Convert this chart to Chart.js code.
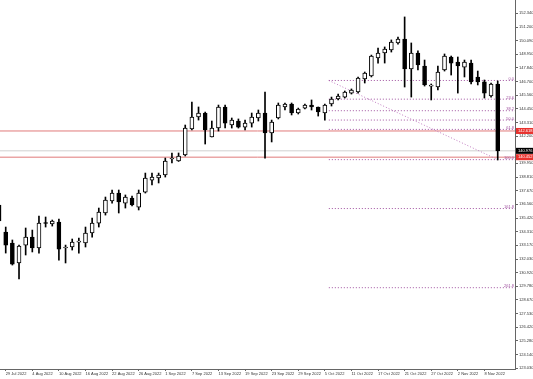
<!DOCTYPE html>
<html>
<head>
<meta charset="utf-8">
<script src="https://cdn.jsdelivr.net/npm/chart.js@4.4.0/dist/chart.umd.min.js"></script>
<style>
html, body { margin: 0; padding: 0; background: #fff; }
</style>
</head>
<body>
<canvas id="myChart" width="533" height="379"></canvas>
<script>
// daily candles, first one is 28 Jul 2022 (index -1)
var firstIndex = -1;
var opens  = [136.50,134.27,133.36,131.71,133.19,133.85,132.95,135.01,134.93,135.09,132.95,133.03,133.44,133.36,134.19,135.01,135.84,136.83,137.49,136.66,137.08,136.33,137.57,138.56,138.73,138.98,140.30,140.14,140.63,142.78,143.77,144.10,142.12,142.86,144.60,143.11,143.44,142.94,143.27,143.69,144.10,142.45,143.69,144.60,144.85,144.10,144.51,144.76,144.60,144.10,144.85,145.26,145.42,145.75,145.84,146.91,147.16,148.65,149.06,149.31,149.89,150.22,147.74,149.06,147.99,146.33,146.25,147.66,148.73,148.32,147.90,148.23,147.08,146.67,145.51,146.50];
var highs  = [136.66,134.68,133.61,133.19,134.60,134.43,135.59,135.51,135.26,135.34,133.19,133.69,133.77,134.68,135.43,136.25,137.16,137.74,137.74,137.33,137.24,137.74,139.14,139.14,139.14,140.38,140.80,140.80,143.11,145.01,144.60,144.18,143.44,144.76,144.76,143.69,143.61,143.52,144.10,144.35,145.84,143.52,144.93,144.93,144.93,144.51,144.85,145.18,144.60,144.85,145.42,145.67,145.92,146.09,147.08,147.49,148.89,149.47,149.56,150.14,150.38,152.04,149.89,149.23,148.48,146.50,147.99,148.98,148.81,148.73,148.48,148.48,147.57,146.83,146.58,146.75];
var lows   = [134.60,132.53,131.54,130.39,132.37,132.62,132.53,134.68,134.76,131.95,131.71,132.78,132.53,133.03,133.85,134.68,135.67,136.66,135.84,136.25,136.42,136.09,137.49,138.15,138.32,138.81,139.97,140.10,140.55,142.70,143.52,141.54,142.12,142.61,142.86,142.86,142.86,142.70,142.94,143.44,140.38,141.71,143.61,144.35,143.94,144.02,144.43,144.35,143.85,143.52,144.68,145.18,145.34,145.67,145.75,146.58,147.08,148.23,148.23,149.14,149.80,146.25,145.42,147.66,146.33,145.18,146.00,147.57,147.24,145.75,147.08,146.50,146.42,145.34,145.42,140.22];
var closes = [135.18,133.19,131.62,133.11,133.85,132.95,135.01,134.97,135.18,132.86,132.99,133.44,133.48,134.19,135.01,135.92,136.91,137.49,136.75,137.16,136.50,137.49,138.73,138.81,138.98,140.14,140.34,140.55,142.86,143.77,144.10,142.70,142.86,144.60,143.27,143.52,142.94,143.27,143.77,144.10,142.45,143.36,144.76,144.85,144.10,144.43,144.76,144.60,144.19,144.76,145.26,145.51,145.84,146.00,146.99,147.41,148.81,149.06,149.39,149.97,150.22,147.74,149.06,148.07,146.42,146.37,147.49,148.81,148.23,147.99,148.32,146.67,146.67,145.75,146.50,140.98];

var dateTicks  = [0,4,8,12,16,20,24,28,32,36,40,44,48,52,56,60,64,68,72];
var dateLabels = ['29 Jul 2022','4 Aug 2022','10 Aug 2022','16 Aug 2022','22 Aug 2022','26 Aug 2022','1 Sep 2022','7 Sep 2022','13 Sep 2022','19 Sep 2022','23 Sep 2022','29 Sep 2022','5 Oct 2022','11 Oct 2022','17 Oct 2022','21 Oct 2022','27 Oct 2022','2 Nov 2022','8 Nov 2022'];
var priceTicks = [152.340,151.200,150.090,148.950,147.840,146.700,145.560,144.450,143.310,142.200,141.060,139.950,138.810,137.670,136.560,135.420,134.310,133.170,132.030,130.920,129.780,128.670,127.530,126.420,125.280,124.140,123.030];

// fibonacci tool
var fibStart = 48.6, fibEnd = 74;
var fibHigh = 146.79, fibLow = 140.25;
var fibLevels = [0, 23.6, 38.2, 50, 61.8, 100, 161.8, 261.8];

// horizontal lines and bid
var redLines = [142.618, 140.452];
var bidPrice = 140.976;

var xMin = -0.86, xMax = 76.6;
var yMin = 122.95, yMax = 153.44;

var bodies = [], wicks = [], bodyColors = [];
for (var k = 0; k < opens.length; k++) {
    bodies.push({x: k + firstIndex, y: [opens[k], closes[k]]});
    wicks.push({x: k + firstIndex, y: [lows[k], highs[k]]});
    bodyColors.push(closes[k] >= opens[k] ? '#ffffff' : '#000000');
}

function fibValue(l) { return fibHigh - l / 100 * (fibHigh - fibLow); }

var datasets = [
    {data: bodies, backgroundColor: bodyColors, borderColor: '#000', borderWidth: 1,
     borderSkipped: false, barThickness: 4, minBarLength: 1, grouped: false, order: 0, clip: 0},
    {data: wicks, backgroundColor: '#000', borderWidth: 0, barThickness: 1,
     grouped: false, order: 1, clip: 0}
];
fibLevels.forEach(function(l) {
    datasets.push({type: 'line', data: [{x: fibStart, y: fibValue(l)}, {x: xMax + 5, y: fibValue(l)}],
        borderColor: '#a052a0', borderWidth: 1, borderDash: [1, 2], pointRadius: 0, order: 3, clip: 0});
});
datasets.push({type: 'line', data: [{x: fibStart, y: fibHigh}, {x: fibEnd, y: fibLow}],
    borderColor: '#c07cc0', borderWidth: 1, borderDash: [1, 2], pointRadius: 0, order: 3, clip: 0});
redLines.forEach(function(v) {
    datasets.push({type: 'line', data: [{x: xMin - 2, y: v}, {x: xMax + 5, y: v}],
        borderColor: '#e07a7a', borderWidth: 1, pointRadius: 0, order: 4, clip: 0});
});
datasets.push({type: 'line', data: [{x: xMin - 2, y: bidPrice}, {x: xMax + 5, y: bidPrice}],
    borderColor: '#d0d0d0', borderWidth: 1, pointRadius: 0, order: 5, clip: 0});

var overlay = {
    id: 'overlay',
    afterDatasetsDraw: function(chart) {
        var ctx = chart.ctx, y = chart.scales.y, area = chart.chartArea;
        ctx.save();
        ctx.font = '4px "Liberation Sans"';
        ctx.fillStyle = '#a052a0';
        ctx.textAlign = 'right';
        ctx.textBaseline = 'bottom';
        fibLevels.forEach(function(l) {
            ctx.fillText(l.toFixed(1), area.right - 1, y.getPixelForValue(fibValue(l)) + 0.5);
        });
        ctx.restore();
    },
    afterDraw: function(chart) {
        var ctx = chart.ctx, y = chart.scales.y, area = chart.chartArea;
        var boxes = [[redLines[0], '#e8322e'], [redLines[1], '#e8322e'], [bidPrice, '#000000']];
        ctx.save();
        ctx.font = '4px "Liberation Sans"';
        ctx.textAlign = 'left';
        ctx.textBaseline = 'middle';
        boxes.forEach(function(b) {
            var py = y.getPixelForValue(b[0]);
            ctx.fillStyle = b[1];
            ctx.fillRect(area.right + 1, py - 3, 18, 6);
            ctx.fillStyle = '#fff';
            ctx.fillText(b[0].toFixed(3), area.right + 3, py);
        });
        ctx.restore();
    }
};

function noPadding(s) {
    s.paddingTop = 0; s.paddingBottom = 0; s.paddingLeft = 0; s.paddingRight = 0;
}

var ctx = document.getElementById('myChart');
var candleChart = new Chart(ctx, {
    type: 'bar',
    data: {datasets: datasets},
    plugins: [overlay],
    options: {
        responsive: false,
        animation: false,
        devicePixelRatio: 1,
        layout: {padding: 0},
        plugins: {legend: {display: false}, tooltip: {enabled: false}},
        scales: {
            x: {
                type: 'linear', min: xMin, max: xMax, offset: false,
                afterFit: function(s) { s.height = 10; noPadding(s); },
                afterBuildTicks: function(axis) { axis.ticks = dateTicks.map(function(v) { return {value: v}; }); },
                grid: {drawOnChartArea: false, offset: false, tickLength: 2, color: '#666'},
                border: {display: true, color: '#666', width: 1},
                ticks: {autoSkip: false, maxRotation: 0, minRotation: 0, align: 'start', padding: 0,
                        color: '#333', font: {size: 4, family: 'Liberation Sans'},
                        callback: function(v, i) { return dateLabels[i]; }}
            },
            y: {
                type: 'linear', position: 'right', min: yMin, max: yMax,
                afterFit: function(s) { s.width = 18; noPadding(s); },
                afterBuildTicks: function(axis) { axis.ticks = priceTicks.map(function(v) { return {value: v}; }); },
                grid: {drawOnChartArea: false, tickLength: 3, color: '#666'},
                border: {display: true, color: '#666', width: 1},
                ticks: {autoSkip: false, padding: 1, color: '#333', font: {size: 4, family: 'Liberation Sans'},
                        callback: function(v) { return v.toFixed(3); }}
            }
        }
    }
});
</script>
</body>
</html>
